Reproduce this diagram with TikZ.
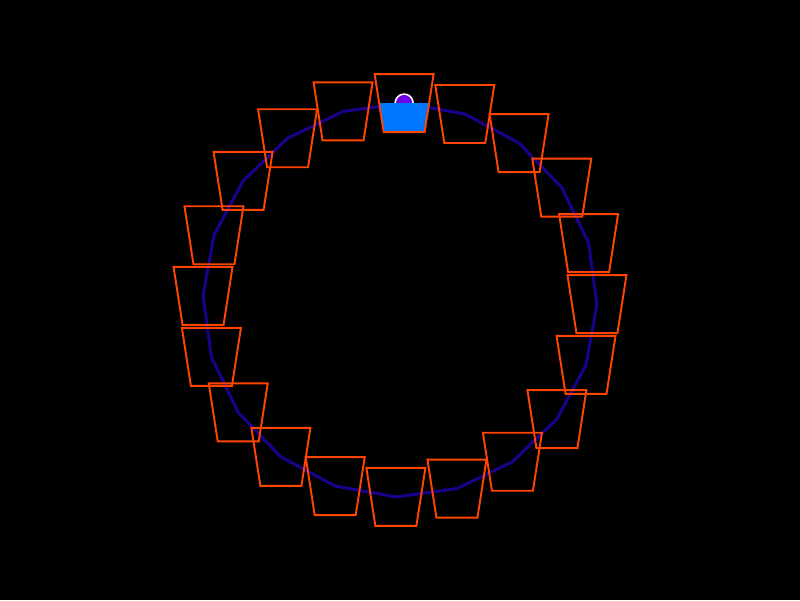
\documentclass[tikz,border=0pt]{standalone}
\usepackage{tikz}
\definecolor{bucketorange}{RGB}{255, 69, 0}
\definecolor{orbitblue}{RGB}{28, 0, 140}
\definecolor{waterblue}{RGB}{0, 119, 255}
\definecolor{ballpurple}{RGB}{110, 0, 230}

\begin{document}
\begin{tikzpicture}[
    x=0.02cm, y=0.02cm,
    orbit/.style={draw=orbitblue, line width=1.7pt, line join=round},
    bucket/.style={draw=bucketorange, line width=1.1pt, line join=miter},
    water/.style={fill=waterblue},
    ball/.style={fill=ballpurple},
    rim/.style={draw=white, line width=0.9pt}
]
    \fill[black] (-400,-300) rectangle (400,300);

    % Orbit
    \draw[orbit] (88.8:197) \foreach \k in {1,...,19} { -- ({88.8-18*\k}:197) } -- cycle;

    % Bucket anchors
    \foreach \k in {0,...,19} {
        \coordinate (b\k) at ({88.8-18*\k}:197);
    }

    % Filled top bucket
    \begin{scope}[shift={(b0)}]
        \fill[ball] (-9,0) arc (180:0:9) -- cycle;
        \draw[rim] (-9,0) arc (180:0:9);
        \fill[water] (-25,0) -- (25,0) -- (20.5,-29) -- (-20.5,-29) -- cycle;
    \end{scope}

    % Buckets
    \foreach \k in {0,...,19} {
        \draw[bucket] (b\k) ++(-29.5,29) -- ++(59,0) -- ++(-9,-58) -- ++(-41,0) -- cycle;
    }
\end{tikzpicture}
\end{document}
